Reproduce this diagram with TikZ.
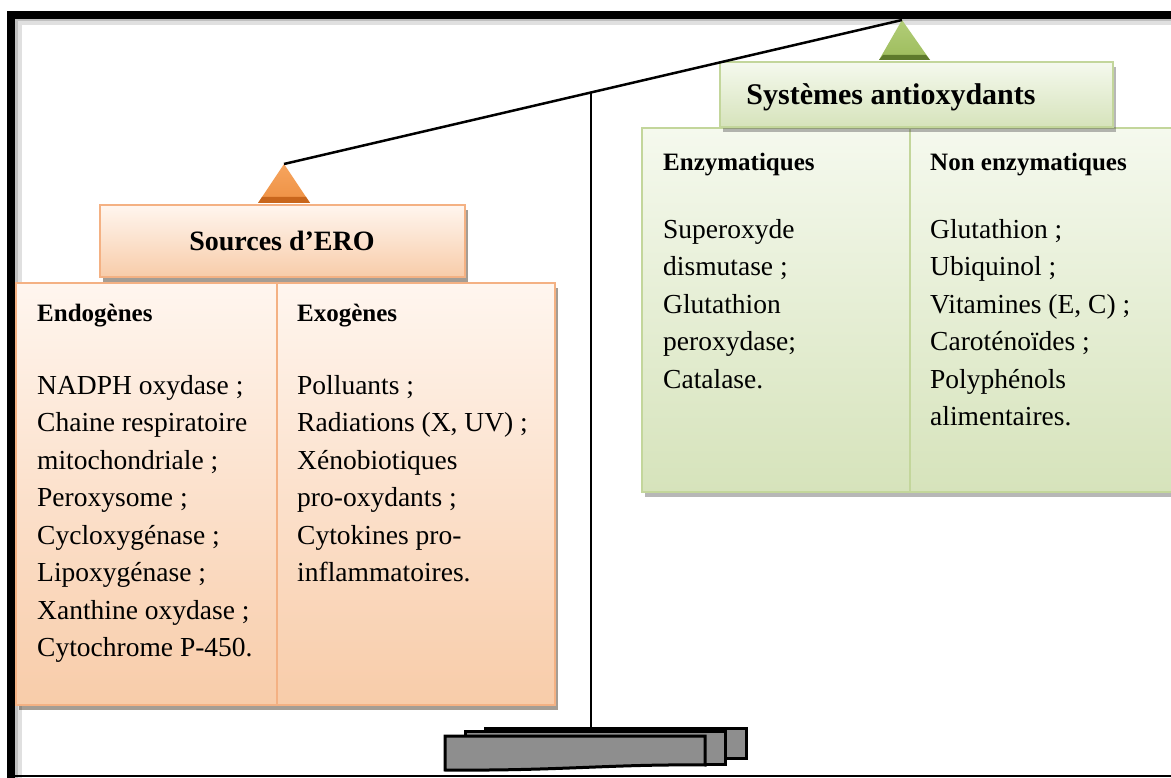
\documentclass[tikz,border=0pt]{standalone}
\usepackage{fontspec}
\setmainfont{Liberation Serif}
\usetikzlibrary{shadows,calc}
\definecolor{orBorder}{HTML}{F4B183}
\definecolor{orTop}{HTML}{FFF6EF}
\definecolor{orBot}{HTML}{F8CCA9}
\definecolor{orTri}{HTML}{F6A45E}
\definecolor{orTriB}{HTML}{EE9143}
\definecolor{orTriD}{HTML}{C8661C}
\definecolor{grBorder}{HTML}{C3D69B}
\definecolor{grTop}{HTML}{F5F9EE}
\definecolor{grBot}{HTML}{D6E3BB}
\definecolor{grTri}{HTML}{B2CD78}
\definecolor{grTriB}{HTML}{9DBC5C}
\definecolor{grTriD}{HTML}{5E7A2C}
\definecolor{baseGray}{HTML}{8E8E8E}
\tikzset{
  orbox/.style={draw=orBorder, line width=1.2pt, top color=orTop, bottom color=orBot,
    drop shadow={opacity=0.45, shadow xshift=3pt, shadow yshift=-5pt, fill=black!70!brown}},
  grbox/.style={draw=grBorder, line width=1.2pt, top color=grTop, bottom color=grBot,
    drop shadow={opacity=0.4, shadow xshift=3pt, shadow yshift=-5pt, fill=black!70}},
  hdr/.style={font=\fontsize{25}{30}\selectfont\bfseries, inner sep=0pt, text=black},
  ttl/.style={font=\fontsize{28}{32}\selectfont\bfseries, inner sep=0pt, text=black},
  body/.style={font=\fontsize{27.5}{37.5}\selectfont, align=left, inner sep=0pt, text=black},
  basebar/.style={draw=black, line width=3pt, fill=baseGray, rectangle, inner sep=0pt},
}
\begin{document}
\begin{tikzpicture}[x=1pt,y=-1pt]
\useasboundingbox (0,0) rectangle (1171,778);
\fill[white] (0,0) rectangle (1171,778);
% frame inner shadow
\draw[black!12, line width=6pt] (19,778) -- (19,22) -- (1171,22);
\draw[black!25, line width=3pt] (16.5,778) -- (16.5,19.5) -- (1171,19.5);
% frame
\draw[line width=8pt] (11,782) -- (11,15) -- (1175,15);
\draw[line width=2pt] (11,776) -- (1171,776);

% beam apices
\coordinate (oapex) at (284,164);
\coordinate (gapex) at (902,20);
\coordinate (poletop) at ($(oapex)!0.4968!(gapex)$);

% base
\node[basebar, minimum width=261pt, minimum height=30pt] (base3) at (615.5,743) {};
\node[basebar, minimum width=260pt, minimum height=33pt] (base2) at (595,748) {};
\draw[black, line width=3pt, fill=baseGray] (445,736) -- (705,736) -- (705,765)
  .. controls (610,764) and (560,771) .. (445,770) -- cycle;

% pole
\draw[line width=2.5pt] (poletop) -- (poletop |- base3.north);

% boxes
\node[orbox, minimum width=539pt, minimum height=422pt] (srcbox) at (285.5,494) {};
\draw[orBorder, line width=1.2pt] (277,283) -- (277,705);
\node[grbox, minimum width=545pt, minimum height=364pt] (antibox) at (914.5,310) {};
\draw[grBorder, line width=1.2pt] (910,128) -- (910,492);

\node[orbox, minimum width=365pt, minimum height=72pt] (srctitle) at (282.5,241) {};
\node[grbox, minimum width=393pt, minimum height=65pt] (antititle) at (916.5,94.5) {};

% triangles
\path[top color=orTri, bottom color=orTriB] (oapex) -- (258,203) -- (310,203) -- cycle;
\fill[orTriD] (262,197) -- (306,197) -- (310,203) -- (258,203) -- cycle;
\path[top color=grTri, bottom color=grTriB] (gapex) -- (879,60) -- (930,60) -- cycle;
\fill[grTriD] (883,55) -- (926,55) -- (930,60) -- (879,60) -- cycle;

% beam
\draw[line width=2.5pt] (oapex) -- (gapex);

% titles
\node[ttl] (srct) at (282,241) {Sources d’ERO};
\node[ttl, font=\fontsize{30}{34}\selectfont\bfseries] (antit) at (891,97) {Systèmes antioxydants};

% headers
\node[hdr, anchor=base west] (endo) at (37,322) {Endogènes};
\node[hdr, anchor=base west] (exo) at (297,322) {Exogènes};
\node[hdr, anchor=base west] (enz) at (663,171) {Enzymatiques};
\node[hdr, anchor=base west] (nenz) at (930,171) {Non enzymatiques};

% lists
\node[body, anchor=north west] (endol) at (37,375) {NADPH oxydase ;\\Chaine respiratoire\\mitochondriale ;\\Peroxysome ;\\Cycloxygénase ;\\Lipoxygénase ;\\Xanthine oxydase ;\\Cytochrome P-450.};
\node[body, anchor=north west] (exol) at (297,375) {Polluants ;\\Radiations (X, UV) ;\\Xénobiotiques\\pro-oxydants ;\\Cytokines pro-\\inflammatoires.};
\node[body, anchor=north west] (enzl) at (663,219) {Superoxyde\\dismutase ;\\Glutathion\\peroxydase;\\Catalase.};
\node[body, anchor=north west] (nenzl) at (930,219) {Glutathion ;\\Ubiquinol ;\\Vitamines (E, C) ;\\Caroténoïdes ;\\Polyphénols\\alimentaires.};
\end{tikzpicture}
\end{document}
